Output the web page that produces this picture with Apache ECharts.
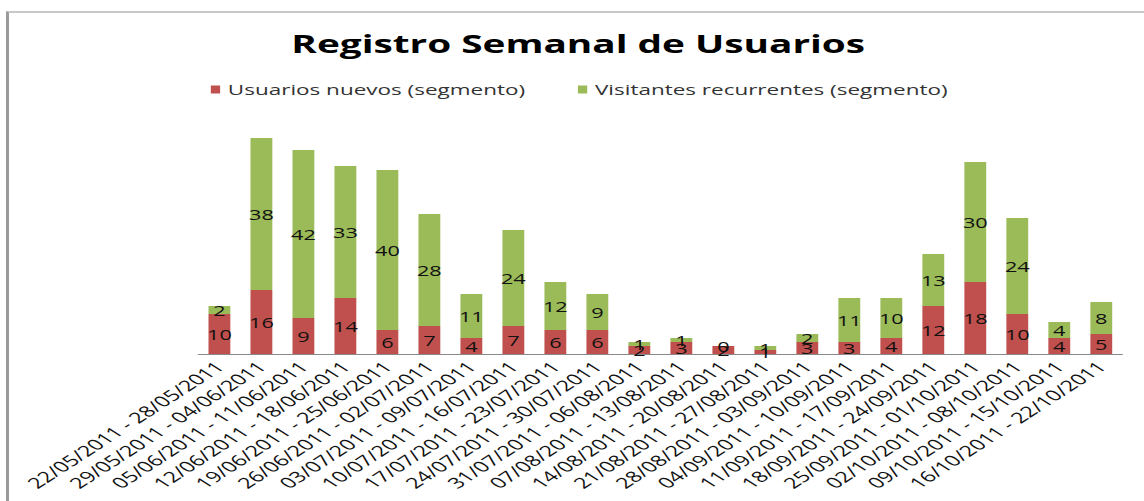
<!DOCTYPE html>
<html><head><meta charset="utf-8">
<script src="https://cdn.jsdelivr.net/npm/echarts@6/dist/echarts.min.js"></script>
<style>
html,body{margin:0;padding:0;background:#fff;overflow:hidden;width:1144px;height:501px;}
#frame{position:absolute;left:6px;top:11px;width:1200px;height:600px;border-left:3px solid #9a9a9a;border-top:2px solid #c8c8c8;}
#chart{position:absolute;left:0;top:0;width:738px;height:501px;transform:scaleX(1.5501);transform-origin:0 0;}
</style></head><body>
<div id="frame"></div><div id="chart"></div>
<script>
const categories = [
 "22/05/2011 - 28/05/2011","29/05/2011 - 04/06/2011","05/06/2011 - 11/06/2011",
 "12/06/2011 - 18/06/2011","19/06/2011 - 25/06/2011","26/06/2011 - 02/07/2011",
 "03/07/2011 - 09/07/2011","10/07/2011 - 16/07/2011","17/07/2011 - 23/07/2011",
 "24/07/2011 - 30/07/2011","31/07/2011 - 06/08/2011","07/08/2011 - 13/08/2011",
 "14/08/2011 - 20/08/2011","21/08/2011 - 27/08/2011","28/08/2011 - 03/09/2011",
 "04/09/2011 - 10/09/2011","11/09/2011 - 17/09/2011","18/09/2011 - 24/09/2011",
 "25/09/2011 - 01/10/2011","02/10/2011 - 08/10/2011","09/10/2011 - 15/10/2011",
 "16/10/2011 - 22/10/2011"];
const nuevos = [10,16,9,14,6,7,4,7,6,6,2,3,2,1,3,3,4,12,18,10,4,5];
const recurrentes = [2,38,42,33,40,28,11,24,12,9,1,1,0,1,2,11,10,13,30,24,4,8];
const seriesNames = ["Usuarios nuevos (segmento)","Visitantes recurrentes (segmento)"];

const chart = echarts.init(document.getElementById('chart'), null, {renderer:'svg'});
const lbl = {show:true, position:'inside', color:'#111', fontFamily:'Open Sans', fontSize:14};
chart.setOption({
  animation:false,
  backgroundColor:'transparent',
  title:{text:'Registro Semanal de Usuarios', left:368, top:26, textAlign:'center',
    textStyle:{fontFamily:'Open Sans', fontWeight:'bold', fontSize:25, color:'#000'}},
  legend:{left:131, top:77, itemWidth:6, itemHeight:8, itemGap:34, icon:'rect',
    textStyle:{fontFamily:'Open Sans', fontSize:14.5, color:'#333'},
    data:seriesNames},
  grid:{left:128, right:14, top:114, bottom:147, containLabel:false},
  xAxis:{type:'category', data:categories,
    axisLine:{lineStyle:{color:'#8a8a8a', width:1}},
    axisTick:{show:false},
    axisLabel:{interval:0, rotate:45, margin:10, color:'#111', fontFamily:'Open Sans', fontSize:15}},
  yAxis:{type:'value', min:0, max:60, show:false, splitLine:{show:false}},
  series:[
    {name:seriesNames[0], type:'bar', stack:'t', data:nuevos, barWidth:'52%',
      itemStyle:{color:'#C0504D'}, label:lbl},
    {name:seriesNames[1], type:'bar', stack:'t', data:recurrentes, barWidth:'52%',
      itemStyle:{color:'#9BBB59'}, label:lbl}
  ]
});
</script></body></html>
